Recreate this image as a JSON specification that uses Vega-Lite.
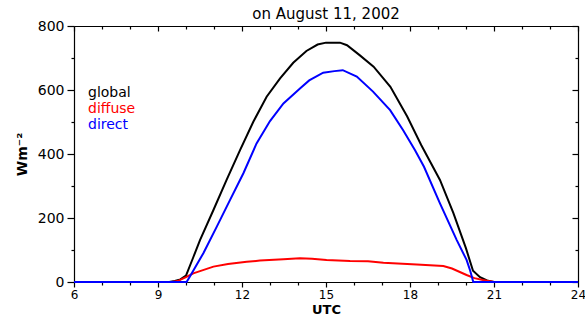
{
  "$schema": "https://vega.github.io/schema/vega-lite/v6.json",
  "width": 504,
  "height": 256,
  "autosize": "none",
  "padding": {"left": 74, "top": 26, "right": 7, "bottom": 34},
  "background": "white",
  "title": {"text": "on August 11, 2002", "font": "DejaVu Sans", "fontSize": 15, "fontWeight": "normal", "color": "black", "anchor": "middle", "offset": -3},
  "config": {
    "view": {"stroke": null},
    "axis": {"domainColor": "black", "tickColor": "black", "labelColor": "black", "titleColor": "black", "grid": false, "labelFont": "DejaVu Sans", "labelFontSize": 14, "titleFont": "DejaVu Sans", "titleFontSize": 14, "titleFontWeight": "bold", "labelOverlap": false, "labelFlush": false, "domainWidth": 1.2, "tickWidth": 1.2}
  },
  "datasets": {
    "series": [
      {"h": 6, "v": 0, "s": "global"},
      {"h": 9.4, "v": 0, "s": "global"},
      {"h": 9.6, "v": 3, "s": "global"},
      {"h": 9.8, "v": 8, "s": "global"},
      {"h": 10.0, "v": 20, "s": "global"},
      {"h": 10.25, "v": 75, "s": "global"},
      {"h": 10.5, "v": 131, "s": "global"},
      {"h": 10.98, "v": 225, "s": "global"},
      {"h": 11.45, "v": 319, "s": "global"},
      {"h": 11.93, "v": 412, "s": "global"},
      {"h": 12.4, "v": 500, "s": "global"},
      {"h": 12.88, "v": 579, "s": "global"},
      {"h": 13.36, "v": 636, "s": "global"},
      {"h": 13.83, "v": 685, "s": "global"},
      {"h": 14.3, "v": 722, "s": "global"},
      {"h": 14.7, "v": 742, "s": "global"},
      {"h": 15.0, "v": 748, "s": "global"},
      {"h": 15.5, "v": 748, "s": "global"},
      {"h": 15.75, "v": 740, "s": "global"},
      {"h": 16.2, "v": 709, "s": "global"},
      {"h": 16.7, "v": 673, "s": "global"},
      {"h": 17.3, "v": 610, "s": "global"},
      {"h": 17.9, "v": 517, "s": "global"},
      {"h": 18.4, "v": 428, "s": "global"},
      {"h": 19.07, "v": 319, "s": "global"},
      {"h": 19.55, "v": 215, "s": "global"},
      {"h": 20.0, "v": 105, "s": "global"},
      {"h": 20.25, "v": 35, "s": "global"},
      {"h": 20.5, "v": 15, "s": "global"},
      {"h": 20.75, "v": 5, "s": "global"},
      {"h": 21, "v": 0, "s": "global"},
      {"h": 24, "v": 0, "s": "global"},
      {"h": 6, "v": 0, "s": "diffuse"},
      {"h": 9.5, "v": 0, "s": "diffuse"},
      {"h": 9.7, "v": 3, "s": "diffuse"},
      {"h": 10.0, "v": 15, "s": "diffuse"},
      {"h": 10.26, "v": 27, "s": "diffuse"},
      {"h": 10.5, "v": 34, "s": "diffuse"},
      {"h": 10.98, "v": 48, "s": "diffuse"},
      {"h": 11.5, "v": 56, "s": "diffuse"},
      {"h": 12.17, "v": 63, "s": "diffuse"},
      {"h": 12.64, "v": 67, "s": "diffuse"},
      {"h": 13.48, "v": 71, "s": "diffuse"},
      {"h": 14.07, "v": 74, "s": "diffuse"},
      {"h": 14.5, "v": 73, "s": "diffuse"},
      {"h": 15.02, "v": 69, "s": "diffuse"},
      {"h": 15.86, "v": 66, "s": "diffuse"},
      {"h": 16.5, "v": 65, "s": "diffuse"},
      {"h": 17.05, "v": 60, "s": "diffuse"},
      {"h": 18.24, "v": 55, "s": "diffuse"},
      {"h": 19.19, "v": 50, "s": "diffuse"},
      {"h": 19.5, "v": 42, "s": "diffuse"},
      {"h": 20.02, "v": 22, "s": "diffuse"},
      {"h": 20.3, "v": 12, "s": "diffuse"},
      {"h": 20.6, "v": 6, "s": "diffuse"},
      {"h": 21, "v": 0, "s": "diffuse"},
      {"h": 24, "v": 0, "s": "diffuse"},
      {"h": 6, "v": 0, "s": "direct"},
      {"h": 10.02, "v": 0, "s": "direct"},
      {"h": 10.14, "v": 17, "s": "direct"},
      {"h": 10.62, "v": 90, "s": "direct"},
      {"h": 11.1, "v": 173, "s": "direct"},
      {"h": 11.57, "v": 256, "s": "direct"},
      {"h": 12.05, "v": 340, "s": "direct"},
      {"h": 12.52, "v": 433, "s": "direct"},
      {"h": 13.0, "v": 503, "s": "direct"},
      {"h": 13.48, "v": 558, "s": "direct"},
      {"h": 14.07, "v": 605, "s": "direct"},
      {"h": 14.4, "v": 630, "s": "direct"},
      {"h": 14.9, "v": 654, "s": "direct"},
      {"h": 15.3, "v": 659, "s": "direct"},
      {"h": 15.6, "v": 662, "s": "direct"},
      {"h": 16.1, "v": 642, "s": "direct"},
      {"h": 16.68, "v": 595, "s": "direct"},
      {"h": 17.29, "v": 537, "s": "direct"},
      {"h": 17.75, "v": 475, "s": "direct"},
      {"h": 18.18, "v": 412, "s": "direct"},
      {"h": 18.5, "v": 360, "s": "direct"},
      {"h": 19.07, "v": 246, "s": "direct"},
      {"h": 19.67, "v": 131, "s": "direct"},
      {"h": 20.02, "v": 69, "s": "direct"},
      {"h": 20.15, "v": 35, "s": "direct"},
      {"h": 20.26, "v": 0, "s": "direct"},
      {"h": 24, "v": 0, "s": "direct"}
    ],
    "labels": [
      {"h": 6.5, "v": 578, "s": "global"},
      {"h": 6.5, "v": 528, "s": "diffuse"},
      {"h": 6.5, "v": 478, "s": "direct"}
    ]
  },
  "layer": [
    {
      "data": {"name": "series"},
      "mark": {"type": "line", "strokeWidth": 2},
      "encoding": {
        "x": {"field": "h", "type": "quantitative",
          "scale": {"domain": [6, 24], "nice": false, "zero": false},
          "axis": {"orient": "bottom", "values": [6,7,8,9,10,11,12,13,14,15,16,17,18,19,20,21,22,23,24],
            "labelExpr": "datum.value % 3 === 0 ? datum.label : ''",
            "tickSize": {"condition": {"test": "datum.value % 3 === 0", "value": 5}, "value": 3},
            "labelPadding": 2, "labelFontSize": 12, "title": "UTC", "titleFontSize": 13, "titlePadding": 3}},
        "y": {"field": "v", "type": "quantitative",
          "scale": {"domain": [0, 800], "nice": false},
          "axis": {"orient": "left", "values": [0,100,200,300,400,500,600,700,800],
            "labelExpr": "datum.value % 200 === 0 ? datum.label : ''",
            "tickSize": {"condition": {"test": "datum.value % 200 === 0", "value": 7}, "value": 3},
            "labelPadding": 3, "title": "Wm⁻²", "titlePadding": 8}},
        "color": {"field": "s", "type": "nominal",
          "scale": {"domain": ["global", "diffuse", "direct"], "range": ["#000000", "#ff0000", "#0000ff"]},
          "legend": null}
      }
    },
    {
      "data": {"name": "labels"},
      "mark": {"type": "text", "align": "left", "baseline": "alphabetic", "font": "DejaVu Sans", "fontSize": 14},
      "encoding": {
        "x": {"field": "h", "type": "quantitative",
          "axis": {"orient": "top", "values": [6,7,8,9,10,11,12,13,14,15,16,17,18,19,20,21,22,23,24],
            "labels": false, "title": null,
            "tickSize": {"condition": {"test": "datum.value % 3 === 0", "value": -5}, "value": -3}}},
        "y": {"field": "v", "type": "quantitative",
          "axis": {"orient": "right", "values": [0,100,200,300,400,500,600,700,800],
            "labels": false, "title": null,
            "tickSize": {"condition": {"test": "datum.value % 200 === 0", "value": -6}, "value": -3}}},
        "text": {"field": "s"},
        "color": {"field": "s", "type": "nominal", "legend": null}
      }
    }
  ],
  "resolve": {"axis": {"x": "independent", "y": "independent"}}
}
